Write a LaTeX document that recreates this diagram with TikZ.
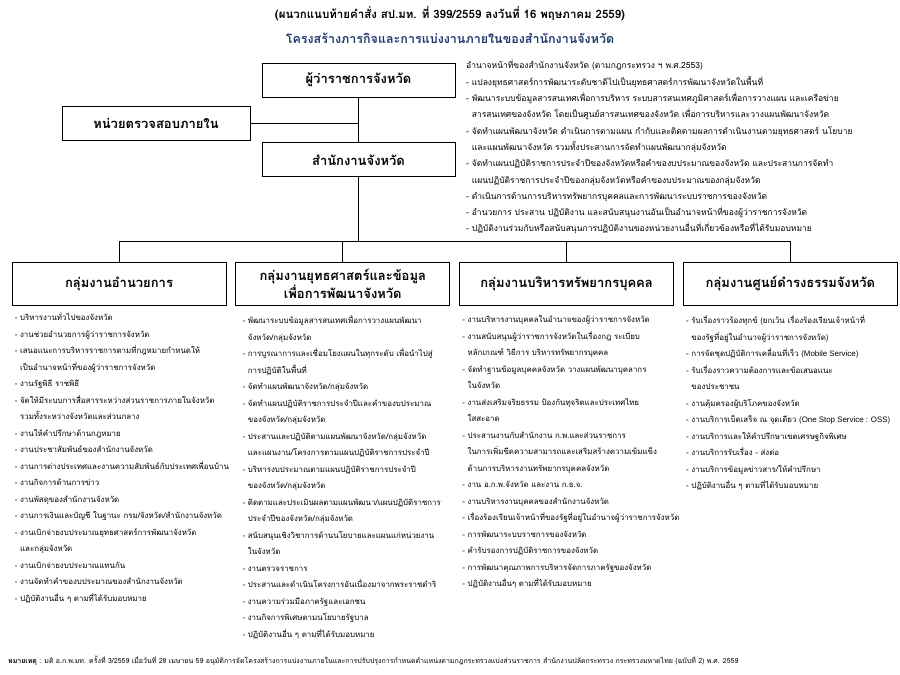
\documentclass[tikz,border=0pt]{standalone}
\usepackage{fontspec}
\setmainfont[Script=Thai]{Loma}
\newfontfamily\latinfont{Liberation Sans}
\usetikzlibrary{positioning}
\definecolor{titleblue}{RGB}{31, 56, 110}
\newcommand{\listfont}{\fontsize{7.9}{16.5}\selectfont}
\newcommand{\contind}{\hphantom{-~}}
\tikzset{
  unitbox/.style={draw=black, fill=white, line width=0.8pt, minimum height=34pt, align=center, font=\bfseries\fontsize{13}{15.5}\selectfont},
  groupbox/.style={unitbox, minimum width=214pt, minimum height=43pt},
  dutylist/.style={align=left, inner sep=0pt, font=\listfont},
  orgline/.style={draw=black, line width=0.8pt}
}

\begin{document}
\begin{tikzpicture}[x=1pt, y=-1pt, node distance=9pt]
\useasboundingbox (0,0) rectangle (900,675);
\node[font=\bfseries\fontsize{11.5}{14}\selectfont] (head) at (450,14) {(ผนวกแนบท้ายคำสั่ง สป.มท. ที่ 399/2559 ลงวันที่ 16 พฤษภาคม 2559)};
\node[font=\bfseries\fontsize{12.5}{15}\selectfont, text=titleblue] (title) at (450,38) {โครงสร้างภารกิจและการแบ่งงานภายในของสำนักงานจังหวัด};
\node[unitbox, minimum width=193pt] (gov) at (358.5,80) {ผู้ว่าราชการจังหวัด};
\node[unitbox, minimum width=188pt] (audit) at (156,123) {หน่วยตรวจสอบภายใน};
\node[unitbox, minimum width=193pt, below=45pt of gov] (office) {สำนักงานจังหวัด};
\node[dutylist, font=\fontsize{8.5}{16.3}\selectfont, anchor=north west] (govduty) at (466,60)
{อำนาจหน้าที่ของสำนักงานจังหวัด (ตามกฎกระทรวง ฯ พ.ศ.2553)\\
- แปลงยุทธศาสตร์การพัฒนาระดับชาติไปเป็นยุทธศาสตร์การพัฒนาจังหวัดในพื้นที่\\
- พัฒนาระบบข้อมูลสารสนเทศเพื่อการบริหาร ระบบสารสนเทศภูมิศาสตร์เพื่อการวางแผน และเครือข่าย\\
\contind สารสนเทศของจังหวัด โดยเป็นศูนย์สารสนเทศของจังหวัด เพื่อการบริหารและวางแผนพัฒนาจังหวัด\\
- จัดทำแผนพัฒนาจังหวัด ดำเนินการตามแผน กำกับและติดตามผลการดำเนินงานตามยุทธศาสตร์ นโยบาย\\
\contind และแผนพัฒนาจังหวัด รวมทั้งประสานการจัดทำแผนพัฒนากลุ่มจังหวัด\\
- จัดทำแผนปฏิบัติราชการประจำปีของจังหวัดหรือคำของบประมาณของจังหวัด และประสานการจัดทำ\\
\contind แผนปฏิบัติราชการประจำปีของกลุ่มจังหวัดหรือคำของบประมาณของกลุ่มจังหวัด\\
- ดำเนินการด้านการบริหารทรัพยากรบุคคลและการพัฒนาระบบราชการของจังหวัด\\
- อำนวยการ ประสาน ปฏิบัติงาน และสนับสนุนงานอันเป็นอำนาจหน้าที่ของผู้ว่าราชการจังหวัด\\
- ปฏิบัติงานร่วมกับหรือสนับสนุนการปฏิบัติงานของหน่วยงานอื่นที่เกี่ยวข้องหรือที่ได้รับมอบหมาย};
\node[groupbox] (grp1) at (119,283.5) {กลุ่มงานอำนวยการ};
\node[groupbox, right=of grp1] (grp2) {กลุ่มงานยุทธศาสตร์และข้อมูล\\เพื่อการพัฒนาจังหวัด};
\node[groupbox, right=of grp2] (grp3) {กลุ่มงานบริหารทรัพยากรบุคคล};
\node[groupbox, right=of grp3] (grp4) {กลุ่มงานศูนย์ดำรงธรรมจังหวัด};
\coordinate (bus) at (358.5,241);
\draw[orgline] (gov) -- (office);
\draw[orgline] (audit.east) -- (audit.east -| gov.south);
\draw[orgline] (office) -- (office |- bus);
\draw[orgline] (grp1.north) -- (grp1.north |- bus) -- (grp4.north |- bus) -- (grp4.north);
\draw[orgline] (grp2.north) -- (grp2.north |- bus);
\draw[orgline] (grp3.north) -- (grp3.north |- bus);
\node[dutylist, below=7pt of grp1.south west, anchor=north west, xshift=3pt] (duty1)
{- บริหารงานทั่วไปของจังหวัด\\
- งานช่วยอำนวยการผู้ว่าราชการจังหวัด\\
- เสนอแนะการบริหารราชการตามที่กฎหมายกำหนดให้\\
\contind เป็นอำนาจหน้าที่ของผู้ว่าราชการจังหวัด\\
- งานรัฐพิธี ราชพิธี\\
- จัดให้มีระบบการสื่อสารระหว่างส่วนราชการภายในจังหวัด\\
\contind รวมทั้งระหว่างจังหวัดและส่วนกลาง\\
- งานให้คำปรึกษาด้านกฎหมาย\\
- งานประชาสัมพันธ์ของสำนักงานจังหวัด\\
- งานการต่างประเทศและงานความสัมพันธ์กับประเทศเพื่อนบ้าน\\
- งานกิจการด้านการข่าว\\
- งานพัสดุของสำนักงานจังหวัด\\
- งานการเงินและบัญชี ในฐานะ กรม/จังหวัด/สำนักงานจังหวัด\\
- งานเบิกจ่ายงบประมาณยุทธศาสตร์การพัฒนาจังหวัด\\
\contind และกลุ่มจังหวัด\\
- งานเบิกจ่ายงบประมาณแทนกัน\\
- งานจัดทำคำของบประมาณของสำนักงานจังหวัด\\
- ปฏิบัติงานอื่น ๆ ตามที่ได้รับมอบหมาย};
\node[dutylist, below=10pt of grp2.south west, anchor=north west, xshift=7pt] (duty2)
{- พัฒนาระบบข้อมูลสารสนเทศเพื่อการวางแผนพัฒนา\\
\contind จังหวัด/กลุ่มจังหวัด\\
- การบูรณาการและเชื่อมโยงแผนในทุกระดับ เพื่อนำไปสู่\\
\contind การปฏิบัติในพื้นที่\\
- จัดทำแผนพัฒนาจังหวัด/กลุ่มจังหวัด\\
- จัดทำแผนปฏิบัติราชการประจำปีและคำของบประมาณ\\
\contind ของจังหวัด/กลุ่มจังหวัด\\
- ประสานและปฏิบัติตามแผนพัฒนาจังหวัด/กลุ่มจังหวัด\\
\contind และแผนงาน/โครงการตามแผนปฏิบัติราชการประจำปี\\
- บริหารงบประมาณตามแผนปฏิบัติราชการประจำปี\\
\contind ของจังหวัด/กลุ่มจังหวัด\\
- ติดตามและประเมินผลตามแผนพัฒนา/แผนปฏิบัติราชการ\\
\contind ประจำปีของจังหวัด/กลุ่มจังหวัด\\
- สนับสนุนเชิงวิชาการด้านนโยบายและแผนแก่หน่วยงาน\\
\contind ในจังหวัด\\
- งานตรวจราชการ\\
- ประสานและดำเนินโครงการอันเนื่องมาจากพระราชดำริ\\
- งานความร่วมมือภาครัฐและเอกชน\\
- งานกิจการพิเศษตามนโยบายรัฐบาล\\
- ปฏิบัติงานอื่น ๆ ตามที่ได้รับมอบหมาย};
\node[dutylist, below=10pt of grp3.south west, anchor=north west, xshift=3pt] (duty3)
{- งานบริหารงานบุคคลในอำนาจของผู้ว่าราชการจังหวัด\\
- งานสนับสนุนผู้ว่าราชการจังหวัดในเรื่องกฎ ระเบียบ\\
\contind หลักเกณฑ์ วิธีการ บริหารทรัพยากรบุคคล\\
- จัดทำฐานข้อมูลบุคคลจังหวัด วางแผนพัฒนาบุคลากร\\
\contind ในจังหวัด\\
- งานส่งเสริมจริยธรรม ป้องกันทุจริตและประเทศไทย\\
\contind ใสสะอาด\\
- ประสานงานกับสำนักงาน ก.พ.และส่วนราชการ\\
\contind ในการเพิ่มขีดความสามารถและเสริมสร้างความเข้มแข็ง\\
\contind ด้านการบริหารงานทรัพยากรบุคคลจังหวัด\\
- งาน อ.ก.พ.จังหวัด และงาน ก.ธ.จ.\\
- งานบริหารงานบุคคลของสำนักงานจังหวัด\\
- เรื่องร้องเรียนเจ้าหน้าที่ของรัฐที่อยู่ในอำนาจผู้ว่าราชการจังหวัด\\
- การพัฒนาระบบราชการของจังหวัด\\
- คำรับรองการปฏิบัติราชการของจังหวัด\\
- การพัฒนาคุณภาพการบริหารจัดการภาครัฐของจังหวัด\\
- ปฏิบัติงานอื่นๆ ตามที่ได้รับมอบหมาย};
\node[dutylist, below=10pt of grp4.south west, anchor=north west, xshift=3pt] (duty4)
{- รับเรื่องราวร้องทุกข์ (ยกเว้น เรื่องร้องเรียนเจ้าหน้าที่\\
\contind ของรัฐที่อยู่ในอำนาจผู้ว่าราชการจังหวัด)\\
- การจัดชุดปฏิบัติการเคลื่อนที่เร็ว ({\latinfont Mobile Service})\\
- รับเรื่องราวความต้องการและข้อเสนอแนะ\\
\contind ของประชาชน\\
- งานคุ้มครองผู้บริโภคของจังหวัด\\
- งานบริการเบ็ดเสร็จ ณ จุดเดียว ({\latinfont One Stop Service : OSS})\\
- งานบริการและให้คำปรึกษาเขตเศรษฐกิจพิเศษ\\
- งานบริการรับเรื่อง - ส่งต่อ\\
- งานบริการข้อมูลข่าวสาร/ให้คำปรึกษา\\
- ปฏิบัติงานอื่น ๆ ตามที่ได้รับมอบหมาย};
\node[anchor=west, inner sep=0pt, font=\fontsize{7}{8}\selectfont] (note) at (8,661) {\textbf{หมายเหตุ} : มติ อ.ก.พ.มท. ครั้งที่ 3/2559 เมื่อวันที่ 28 เมษายน 59 อนุมัติการจัดโครงสร้างการแบ่งงานภายในและการปรับปรุงการกำหนดตำแหน่งตามกฎกระทรวงแบ่งส่วนราชการ สำนักงานปลัดกระทรวง กระทรวงมหาดไทย (ฉบับที่ 2) พ.ศ. 2559};
\end{tikzpicture}
\end{document}
